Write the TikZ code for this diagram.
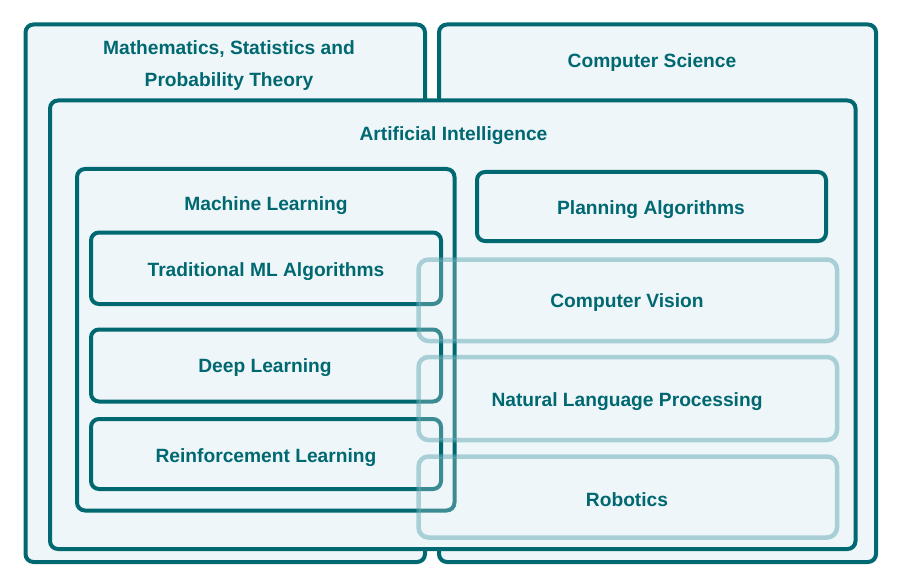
\documentclass[tikz,border=0pt]{standalone}
\usepackage{fontspec}
\setmainfont{Liberation Sans}
\usepackage{tikz}

\definecolor{tealdark}{HTML}{006870}
\definecolor{boxfill}{HTML}{EEF6F9}
\definecolor{teallight}{HTML}{62AAB3}

\begin{document}
\begin{tikzpicture}[x=1pt,y=-1pt,
  box/.style={draw=tealdark,fill=boxfill,line width=4,rounded corners=8},
  softbox/.style={draw=teallight,draw opacity=0.5,fill=boxfill,fill opacity=0.25,line width=4.5,rounded corners=10},
  lbl/.style={text=tealdark,font=\fontsize{19.2}{32}\selectfont\bfseries,align=center,inner sep=0}]

\useasboundingbox (0,0) rectangle (904,588);



\draw[box](25.5,24.5) rectangle (425,562) ;

\draw[box](439,24.5) rectangle (876,562) ;

\draw[box](50,100.5) rectangle (855.5,549) ;


\draw[box](77,169) rectangle (454.5,510.5) ;

\draw[box](91,232.5) rectangle (441,304) ;
\draw[box](91,329.5) rectangle (441,401.5) ;
\draw[box](91,419) rectangle (441,489) ;

\draw[box](477,172) rectangle (826,241) ;


% see-through boxes on top
\draw[softbox](418.5,259.5) rectangle (837,341) ;
\draw[softbox](418.5,357) rectangle (837,440) ;
\draw[softbox](418.5,456.5) rectangle (837,537.5) ;




\node [lbl] (math) at (229,66) {Mathematics, Statistics and\\Probability Theory};

\node [lbl] (cs) at (652,63) {Computer Science};

\node [lbl] (ai) at (453.5,136) {Artificial Intelligence};

\node [lbl] (ml) at (266,206) {Machine Learning};

\node [lbl] (plan) at (651,210) {Planning Algorithms};

\node [lbl] (tradml) at (266,272) {Traditional ML Algorithms};

\node [lbl] (deep) at (265,368) {Deep Learning};

\node [lbl] (rl) at (266,458) {Reinforcement Learning};

\node [lbl] (cv) at (627,303) {Computer Vision};

\node [lbl] (nlp) at (627,402) {Natural Language Processing};

\node [lbl] (robot) at (627,500) {Robotics};


\end{tikzpicture}
\end{document}
